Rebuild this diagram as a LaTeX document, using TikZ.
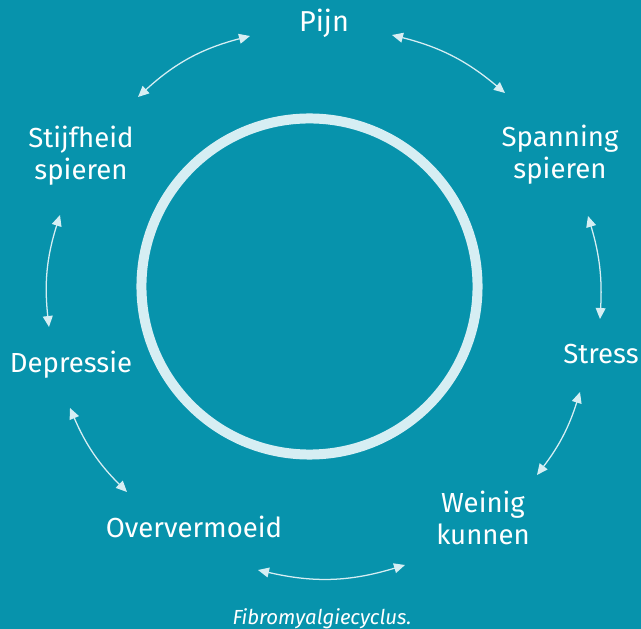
\documentclass[tikz,border=0pt]{standalone}
\usepackage{fontspec}
\setmainfont{Fira Sans}
\usetikzlibrary{arrows.meta}

\definecolor{achtergrond}{HTML}{0793AC}
\definecolor{licht}{HTML}{D6EEF3}

\begin{document}
\begin{tikzpicture}[x=0.025cm,y=-0.025cm,
  fase/.style={text=white,align=center,anchor=base,inner sep=0pt,
    font=\fontsize{19.6}{22.8}\selectfont},
  pijl/.style={licht,line width=0.9pt,
    {Triangle[length=7.8pt,width=7pt]}-{Triangle[length=7.8pt,width=7pt]}},
  ring/.style={circle,draw=licht,line width=7.1pt,minimum size=8.4cm,inner sep=0pt}]

% achtergrond
\fill[achtergrond] (0,0) rectangle (641,629);
\useasboundingbox (0,0) rectangle (641,629);

% grote cirkel
\node[ring] (cirkel) at (309.5,286.5) {};

% fasen van de cyclus (base = laatste regel)
\node[fase,font=\fontsize{20.5}{24}\selectfont] (pijn) at (324,32) {Pijn};
\node[fase] (spanning) at (560,179) {Spanning\\spieren};
\node[fase] (stress) at (601,364) {Stress};
\node[fase] (weinig) at (483,545) {Weinig\\kunnen};
\node[fase] (oververmoeid) at (194,538) {Oververmoeid};
\node[fase] (depressie) at (71,373) {Depressie};
\node[fase] (stijfheid) at (81,180) {Stijfheid\\spieren};

% eindpunten van de pijlen
\foreach \Naam/\Punt in {a1/{(392,35)}, a2/{(505,93)}, b1/{(588,216)}, b2/{(600,319)},
    c1/{(580,392)}, c2/{(537,475)}, d1/{(405,565)}, d2/{(258,570)},
    e1/{(127,492)}, e2/{(70,408)}, f1/{(49,327)}, f2/{(60,215)},
    g1/{(138,97)}, g2/{(250,36)}}{
    \path \Punt coordinate (\Naam);
}

\draw[pijl] (a1) to [bend left=13] (a2);
\draw[pijl] (b1) to [bend left=10] (b2);
\draw[pijl] (c1) to [bend left=10] (c2);
\draw[pijl] (d1) to [bend left=15] (d2);
\draw[pijl] (e1) to [bend left=11] (e2);
\draw[pijl] (f1) to [bend left=12] (f2);
\draw[pijl] (g1) to [bend left=14] (g2);

\node[text=white,anchor=base,inner sep=0pt,font=\fontsize{14.5}{16}\selectfont\itshape]
  (bijschrift) at (322,625) {Fibromyalgiecyclus.};

\end{tikzpicture}
\end{document}
